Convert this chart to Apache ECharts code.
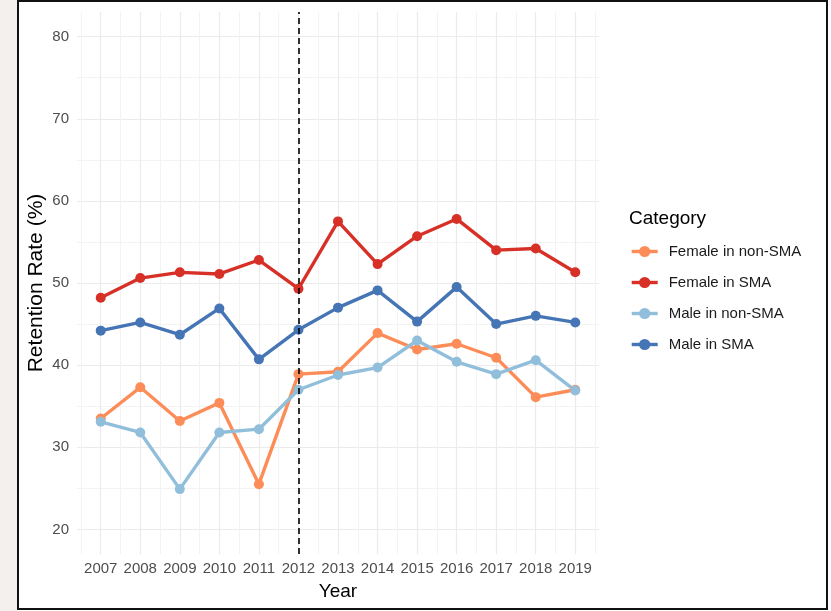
<!DOCTYPE html>
<html><head><meta charset="utf-8">
<script src="https://cdn.jsdelivr.net/npm/echarts@6/dist/echarts.min.js"></script>
<style>
html,body{margin:0;padding:0;background:#fff;width:831px;height:611px;overflow:hidden;}
#strip{position:absolute;left:0;top:0;width:17px;height:611px;background:#f3f0ed;}
#frame{position:absolute;left:17px;top:0;width:811px;height:610px;border:2px solid #111;box-sizing:border-box;background:#fff;}
#chart{position:absolute;left:0;top:0;width:831px;height:611px;}
</style></head><body>
<div id="strip"></div><div id="frame"></div><div id="chart"></div>
<script>
const years = [2007,2008,2009,2010,2011,2012,2013,2014,2015,2016,2017,2018,2019];
const femaleNonSMA = [33.5,37.3,33.2,35.4,25.5,38.9,39.2,43.9,41.9,42.6,40.9,36.1,37.0];
const femaleSMA    = [48.2,50.6,51.3,51.1,52.8,49.3,57.5,52.3,55.7,57.8,54.0,54.2,51.3];
const maleNonSMA   = [33.1,31.8,24.9,31.8,32.2,37.0,38.8,39.7,43.0,40.4,38.9,40.6,36.9];
const maleSMA      = [44.2,45.2,43.7,46.9,40.7,44.3,47.0,49.1,45.3,49.5,45.0,46.0,45.2];
const seriesNames  = ['Female in non-SMA','Female in SMA','Male in non-SMA','Male in SMA'];
const yTicks = [20,30,40,50,60,70,80];
const yMinorTicks = [25,35,45,55,65,75];
const xMinorTicks = [2006.5,2007.5,2008.5,2009.5,2010.5,2011.5,2012.5,2013.5,2014.5,2015.5,2016.5,2017.5,2018.5,2019.5];
const cutYear = 2012;

const colors = ['#FC8D59','#D73027','#91BFDB','#4575B4'];
const values = [femaleNonSMA, femaleSMA, maleNonSMA, maleSMA];
const FONT = 'Liberation Sans, Arial, Helvetica, sans-serif';
const xMin = 2006.4, xMax = 2019.6, yMin = 17, yMax = 83;

const chart = echarts.init(document.getElementById('chart'), null, {renderer:'canvas'});
const series = values.map((arr, k) => ({
  name: seriesNames[k],
  type: 'line',
  xAxisIndex: 0, yAxisIndex: 0,
  data: years.map((y, i) => [y, arr[i]]),
  symbol: 'circle',
  symbolSize: 10,
  color: colors[k],
  lineStyle: {width: 3.4, color: colors[k]},
  itemStyle: {color: colors[k]},
  emphasis: {disabled: true},
  silent: true,
  markLine: k === 0 ? {
    silent: true,
    symbol: ['none','none'],
    label: {show: false},
    lineStyle: {color: '#000', type: [6,4], width: 1.6},
    data: [{xAxis: cutYear}]
  } : undefined
}));

chart.setOption({
  animation: false,
  textStyle: {fontFamily: FONT},
  grid: {left: 77, right: 232, top: 12, bottom: 57, containLabel: false, outerBoundsMode: 'none'},
  title: {
    text: 'Category', left: 629, top: 209, padding: 0,
    textStyle: {fontFamily: FONT, fontSize: 19, fontWeight: 'normal', color: '#000'}
  },
  legend: {
    data: seriesNames, orient: 'vertical', left: 630, top: 244, padding: 0,
    itemWidth: 26, itemHeight: 14, itemGap: 16,
    lineStyle: {width: 3.4},
    textStyle: {fontFamily: FONT, fontSize: 15, color: '#1a1a1a', padding: [0,0,0,6]}
  },
  xAxis: [{
    type: 'value', min: xMin, max: xMax,
    axisLine: {show: false},
    axisTick: {show: false, customValues: years},
    axisLabel: {customValues: years, formatter: v => String(v), color: '#4d4d4d', fontSize: 15, margin: 7, fontFamily: FONT},
    splitLine: {show: true, lineStyle: {color: '#ebebeb', width: 1.2}},
    name: 'Year', nameLocation: 'middle', nameGap: 28, nameMoveOverlap: false,
    nameTextStyle: {fontSize: 19, color: '#000', fontFamily: FONT}
  },{
    type: 'value', min: xMin, max: xMax, position: 'bottom',
    axisLine: {show: false},
    axisTick: {show: false, customValues: xMinorTicks},
    axisLabel: {show: false},
    splitLine: {show: true, lineStyle: {color: '#f3f3f3', width: 1}}
  }],
  yAxis: [{
    type: 'value', min: yMin, max: yMax,
    axisLine: {show: false},
    axisTick: {show: false, customValues: yTicks},
    axisLabel: {customValues: yTicks, color: '#4d4d4d', fontSize: 15, margin: 8, fontFamily: FONT},
    splitLine: {show: true, lineStyle: {color: '#ebebeb', width: 1.2}},
    name: 'Retention Rate (%)', nameLocation: 'middle', nameGap: 30, nameRotate: 90, nameMoveOverlap: false,
    nameTextStyle: {fontSize: 21, color: '#000', fontFamily: FONT}
  },{
    type: 'value', min: yMin, max: yMax, position: 'left',
    axisLine: {show: false},
    axisTick: {show: false, customValues: yMinorTicks},
    axisLabel: {show: false},
    splitLine: {show: true, lineStyle: {color: '#f3f3f3', width: 1}}
  }],
  series: series
});
</script>
</body></html>
